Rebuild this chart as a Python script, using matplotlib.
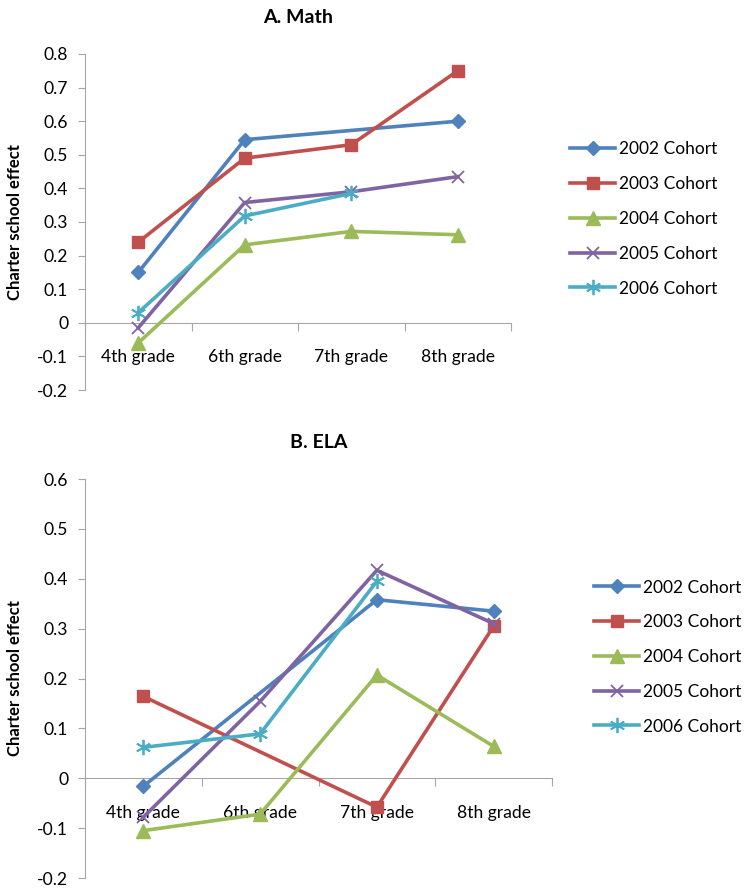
import numpy as np
import matplotlib
matplotlib.use("Agg")
import matplotlib.pyplot as plt

plt.rcParams['font.family'] = ['Lato', 'DejaVu Sans']

grades = ["4th grade", "6th grade", "7th grade", "8th grade"]
cohorts = ["2002 Cohort", "2003 Cohort", "2004 Cohort", "2005 Cohort", "2006 Cohort"]

# Panel A: Math (nan = no value for that grade)
math_2002 = [0.15, 0.545, np.nan, 0.60]
math_2003 = [0.24, 0.49, 0.53, 0.75]
math_2004 = [-0.06, 0.232, 0.272, 0.262]
math_2005 = [-0.015, 0.358, 0.39, 0.435]
math_2006 = [0.03, 0.318, 0.385, np.nan]

# Panel B: ELA
ela_2002 = [-0.016, np.nan, 0.358, 0.335]
ela_2003 = [0.164, np.nan, -0.058, 0.305]
ela_2004 = [-0.105, -0.072, 0.207, 0.064]
ela_2005 = [-0.078, 0.154, 0.417, 0.31]
ela_2006 = [0.062, 0.089, 0.395, np.nan]

colors = ["#4F81BD", "#C0504D", "#9BBB59", "#8064A2", "#4BACC6"]
markers = ["D", "s", "^", "x", (6, 2, 0)]
msizes = [7, 9, 10, 9, 11]


def draw_panel(ax, series, title, ylim, yticks):
    x = np.arange(len(grades))
    for vals, c, m, ms, lab in zip(series, colors, markers, msizes, cohorts):
        vals = np.array(vals, dtype=float)
        ok = ~np.isnan(vals)
        ax.plot(x[ok], vals[ok], color=c, lw=2.6, marker=m, ms=ms,
                mew=1.3 if m in ("x",) or isinstance(m, tuple) else 1,
                mec=c, mfc=c, label=lab, clip_on=False, zorder=3)
    ax.set_xlim(-0.5, len(grades) - 0.5)
    ax.set_ylim(*ylim)
    ax.set_yticks(yticks)
    ax.set_yticklabels([f"{t:g}" for t in yticks])
    ax.spines['top'].set_visible(False)
    ax.spines['right'].set_visible(False)
    ax.spines['left'].set_color("#A6A6A6")
    ax.spines['bottom'].set_color("#A6A6A6")
    ax.spines['bottom'].set_position(('data', 0))
    ax.set_xticks(np.arange(-0.5, len(grades), 1.0))
    ax.set_xticklabels([])
    ax.set_xticks(x, minor=True)
    ax.set_xticklabels(grades, minor=True)
    ax.tick_params(axis='x', which='major', direction='out', length=6, color="#A6A6A6")
    ax.tick_params(axis='x', which='minor', length=0, pad=19, labelsize=12.6)
    ax.tick_params(axis='y', direction='out', length=5, color="#A6A6A6", labelsize=12.6, pad=7)
    ax.set_ylabel("Charter school effect", fontsize=12, fontweight='bold', labelpad=10)
    ax.set_title(title, fontsize=14, fontweight='bold', pad=22)


fig = plt.figure(figsize=(7.44, 8.88), dpi=100)
ax1 = fig.add_axes([85 / 744, 1 - 390 / 888, 426 / 744, 336 / 888])
ax2 = fig.add_axes([85 / 744, 1 - 878 / 888, 467 / 744, 399 / 888])

draw_panel(ax1, [math_2002, math_2003, math_2004, math_2005, math_2006],
           "A. Math", (-0.2, 0.8), np.round(np.arange(-0.2, 0.81, 0.1), 1))
draw_panel(ax2, [ela_2002, ela_2003, ela_2004, ela_2005, ela_2006],
           "B. ELA", (-0.2, 0.6), np.round(np.arange(-0.2, 0.61, 0.1), 1))

for ax, bx, by in [(ax1, 570 / 744, 1 - 219 / 888), (ax2, 594 / 744, 1 - 657 / 888)]:
    ax.legend(loc='center left', bbox_to_anchor=(bx, by), bbox_transform=fig.transFigure,
              frameon=False, fontsize=12.5, handlelength=2.6, handletextpad=0.2,
              labelspacing=1.08, borderaxespad=0, borderpad=0)

fig.savefig("out.png", dpi=100)
